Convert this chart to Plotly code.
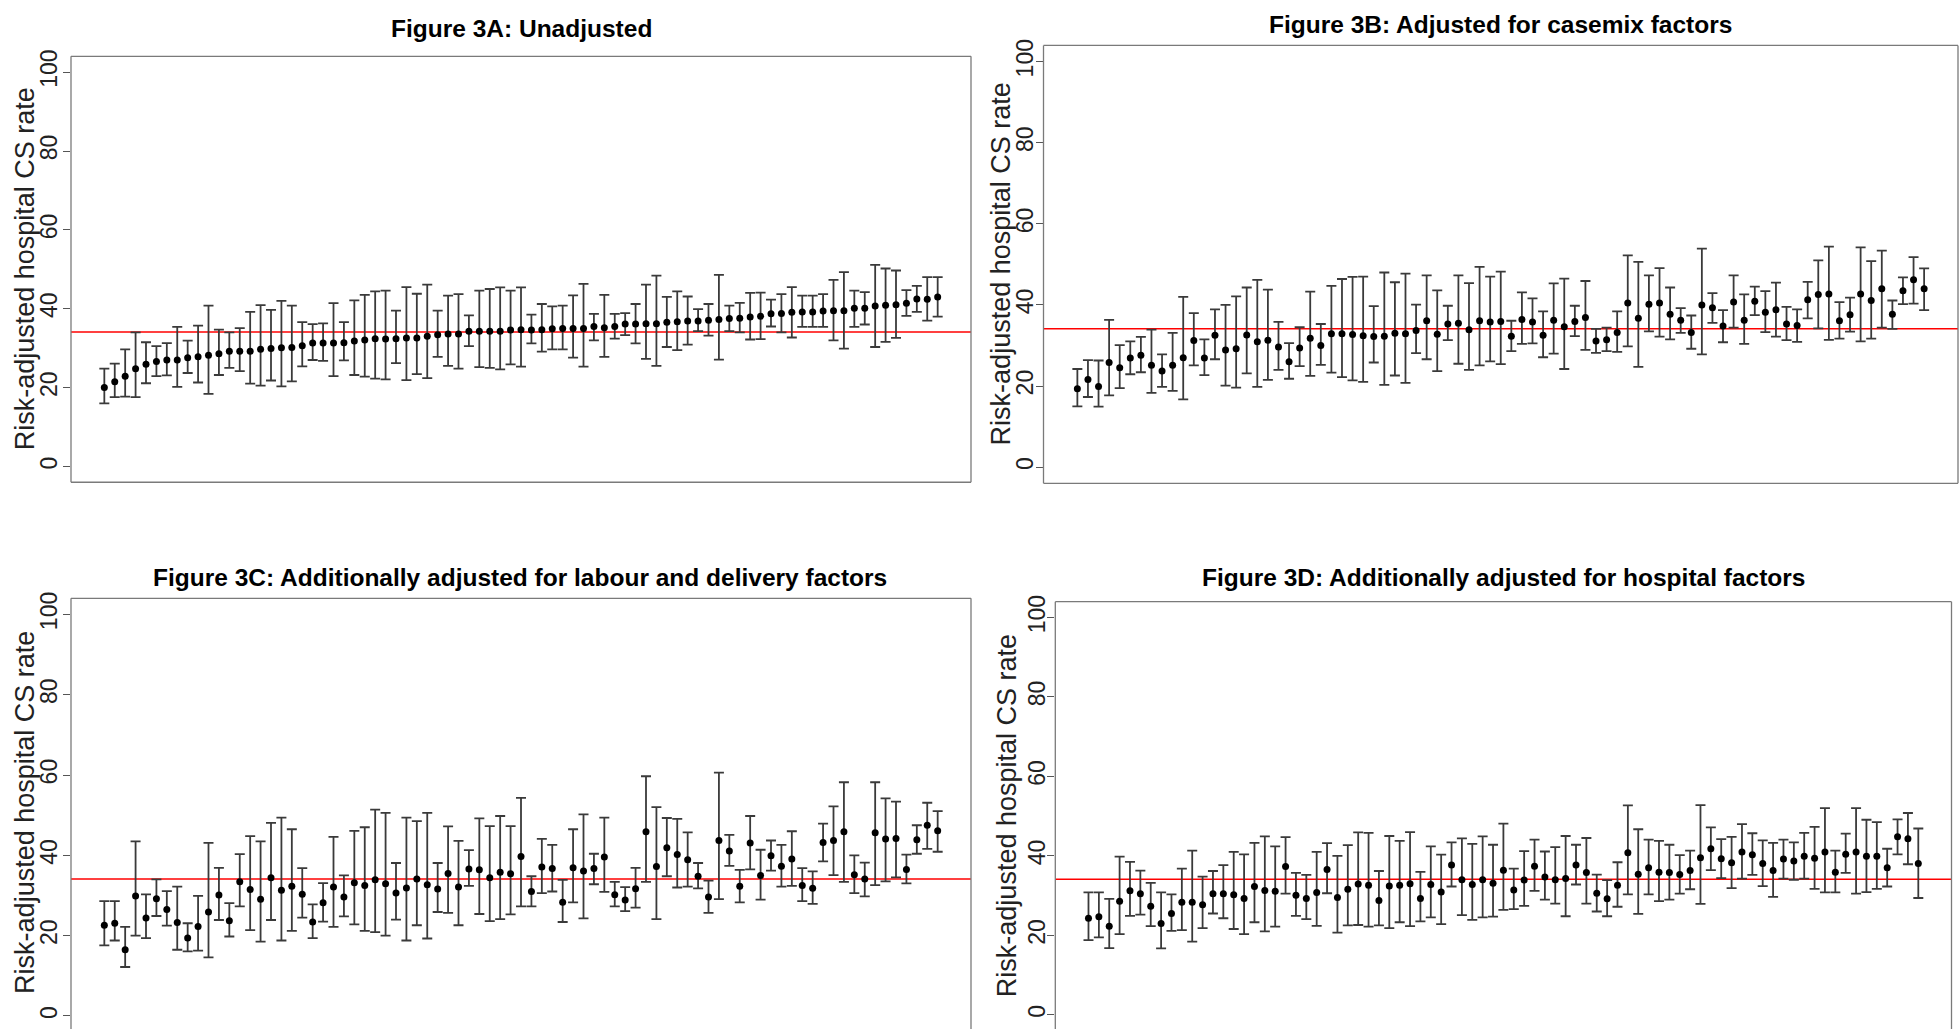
import plotly.graph_objects as go

W, H = 1959, 1029

# ---------------- data ----------------
A_est = [20.0, 21.5, 22.9, 24.8, 25.9, 26.6, 27.0, 27.0, 27.6, 27.8,
         28.2, 28.6, 29.2, 29.2, 29.2, 29.7, 29.9, 30.1, 30.2, 30.6,
         31.3, 31.3, 31.3, 31.4, 31.8, 32.1, 32.4, 32.3, 32.4, 32.6,
         32.6, 33.0, 33.4, 33.6, 33.6, 34.3, 34.3, 34.3, 34.3, 34.6,
         34.7, 34.6, 34.7, 34.9, 35.0, 35.0, 35.0, 35.5, 35.2, 35.5,
         36.1, 36.1, 36.2, 36.2, 36.6, 36.7, 36.9, 36.9, 37.1, 37.3,
         37.5, 37.6, 37.9, 38.1, 38.7, 38.8, 39.1, 39.2, 39.2, 39.4,
         39.5, 39.5, 40.1, 40.1, 40.7, 40.9, 41.0, 41.4, 42.5, 42.4, 43.0]
A_lo = [16.0, 17.6, 17.7, 17.6, 21.1, 22.9, 23.1, 20.2, 23.7, 21.3,
        18.4, 23.2, 25.0, 24.2, 21.0, 20.5, 21.8, 20.3, 21.6, 25.4,
        27.0, 26.8, 22.9, 26.9, 23.2, 22.8, 22.3, 22.1, 26.2, 21.9,
        23.4, 22.4, 27.8, 25.5, 24.8, 30.5, 25.2, 25.0, 24.6, 25.9,
        25.3, 31.2, 29.1, 29.7, 29.7, 27.6, 25.3, 32.0, 27.8, 32.4,
        33.3, 31.2, 27.3, 25.5, 30.3, 29.5, 30.9, 34.3, 33.2, 27.1,
        34.3, 34.0, 32.2, 32.3, 35.5, 34.0, 32.7, 35.4, 35.4, 35.4,
        32.0, 29.9, 35.4, 36.0, 30.3, 31.6, 32.6, 38.2, 39.2, 37.0, 38.0]
A_hi = [24.8, 26.1, 29.7, 34.0, 31.5, 30.5, 31.3, 35.4, 31.9, 35.7,
        40.8, 34.7, 34.0, 35.1, 39.2, 40.9, 39.7, 42.0, 40.8, 36.6,
        36.1, 36.3, 41.4, 36.6, 42.1, 43.5, 44.4, 44.6, 39.5, 45.5,
        43.8, 46.1, 39.5, 43.3, 43.7, 38.3, 44.6, 45.0, 45.4, 44.6,
        45.4, 38.5, 41.2, 40.6, 40.8, 43.4, 46.3, 38.7, 43.5, 38.7,
        38.9, 41.2, 46.1, 48.4, 43.0, 44.4, 43.1, 39.9, 41.2, 48.6,
        40.8, 41.5, 44.0, 44.1, 42.3, 43.7, 45.5, 43.3, 43.3, 43.7,
        47.3, 49.3, 44.6, 44.2, 51.1, 50.2, 49.7, 44.7, 45.8, 48.0, 48.0]

B_est = [19.3, 21.6, 19.9, 25.8, 24.5, 26.9, 27.6, 25.1, 23.7, 25.1,
         27.0, 31.2, 26.9, 32.5, 28.9, 29.2, 32.6, 30.9, 31.3, 29.6,
         26.0, 29.4, 31.8, 30.0, 32.9, 32.9, 32.7, 32.4, 32.2, 32.3,
         33.0, 32.9, 33.7, 36.1, 32.8, 35.3, 35.5, 33.9, 36.1, 35.8,
         35.9, 32.3, 36.4, 35.8, 32.5, 36.2, 34.6, 35.9, 36.9, 31.1,
         31.4, 33.2, 40.5, 36.7, 40.2, 40.5, 37.7, 36.2, 33.2, 40.0,
         39.3, 34.8, 40.7, 36.2, 40.9, 38.2, 38.8, 35.3, 34.9, 41.3,
         42.6, 42.7, 36.1, 37.6, 42.7, 41.1, 44.0, 37.7, 43.5, 46.2, 44.0]
B_lo = [15.0, 17.3, 14.9, 17.7, 19.5, 22.9, 23.4, 18.3, 19.8, 18.8,
        16.7, 25.1, 22.7, 26.6, 20.1, 19.6, 23.1, 19.8, 21.5, 24.0,
        21.8, 24.9, 22.5, 25.2, 23.3, 22.2, 21.4, 21.0, 25.8, 20.3,
        22.6, 20.8, 28.1, 26.6, 23.7, 31.3, 25.5, 24.0, 25.1, 26.1,
        25.4, 28.6, 30.4, 30.5, 27.1, 28.0, 24.2, 32.3, 28.9, 28.2,
        28.6, 28.4, 29.8, 24.7, 33.5, 32.2, 31.5, 33.1, 29.2, 27.8,
        35.6, 30.8, 34.4, 30.4, 37.5, 33.3, 32.2, 31.3, 30.9, 36.7,
        34.2, 31.4, 31.7, 33.4, 31.0, 31.7, 34.4, 34.1, 40.2, 40.3, 38.7]
B_hi = [24.2, 26.4, 26.3, 36.3, 30.1, 31.0, 32.1, 33.9, 27.8, 33.1,
        42.0, 38.0, 31.5, 38.9, 40.0, 42.1, 44.3, 46.2, 43.8, 35.8,
        30.6, 34.5, 43.3, 35.3, 44.7, 46.4, 46.9, 47.0, 39.7, 48.0,
        45.6, 47.7, 40.1, 47.3, 43.6, 39.8, 47.3, 45.4, 49.4, 47.0,
        48.2, 36.1, 43.1, 41.6, 38.4, 45.3, 46.5, 39.8, 45.9, 34.1,
        34.4, 38.4, 52.2, 50.6, 47.3, 49.1, 44.3, 39.2, 37.4, 53.9,
        42.9, 38.7, 47.3, 42.6, 44.5, 43.4, 45.5, 39.5, 38.9, 45.7,
        51.0, 54.4, 40.7, 41.8, 54.2, 50.8, 53.4, 41.1, 46.8, 51.8, 49.0]

C_est = [22.6, 23.1, 16.5, 29.9, 24.4, 29.2, 26.5, 23.3, 19.4, 22.3,
         25.9, 30.1, 23.7, 33.4, 31.5, 29.1, 34.4, 31.3, 32.3, 30.3,
         23.4, 28.2, 32.1, 29.6, 33.2, 32.5, 33.9, 32.9, 30.6, 31.9,
         34.1, 32.7, 31.6, 35.5, 32.1, 36.6, 36.4, 34.4, 35.8, 35.4,
         39.7, 31.0, 37.1, 36.7, 28.3, 36.9, 36.1, 36.7, 39.6, 30.2,
         28.9, 31.7, 45.9, 37.2, 41.9, 40.2, 38.9, 34.8, 29.6, 43.7,
         41.1, 32.3, 43.1, 35.0, 39.9, 37.3, 39.1, 32.5, 31.8, 43.2,
         43.7, 45.9, 35.2, 34.1, 45.6, 44.1, 44.2, 36.5, 43.9, 47.5, 46.1]
C_lo = [17.6, 18.8, 12.2, 20.0, 19.4, 24.9, 22.5, 16.5, 16.1, 16.3,
        14.6, 23.9, 19.8, 27.3, 21.4, 18.5, 23.9, 18.8, 21.2, 24.5,
        19.4, 23.5, 22.2, 24.8, 22.8, 21.2, 20.9, 20.0, 24.0, 18.8,
        22.6, 19.3, 25.9, 25.7, 22.6, 32.4, 25.4, 23.6, 24.1, 25.3,
        27.3, 27.3, 30.6, 31.0, 23.4, 28.3, 24.3, 32.8, 30.9, 27.3,
        26.1, 27.0, 33.4, 24.1, 34.8, 32.0, 32.2, 31.8, 25.7, 29.1,
        37.4, 28.3, 36.5, 29.0, 36.2, 32.2, 32.4, 28.6, 27.9, 38.5,
        35.1, 33.4, 30.6, 29.8, 32.6, 33.5, 34.5, 33.0, 40.4, 41.6, 40.9]
C_hi = [28.6, 28.6, 22.2, 43.5, 30.3, 34.0, 31.1, 32.2, 23.1, 29.9,
        43.1, 36.9, 28.1, 40.3, 44.8, 43.5, 48.1, 49.4, 46.5, 36.8,
        27.8, 33.1, 44.6, 35.0, 46.1, 47.0, 51.4, 50.6, 38.1, 49.4,
        48.5, 50.6, 38.1, 47.2, 43.6, 41.3, 49.2, 47.3, 49.8, 47.3,
        54.3, 34.8, 44.1, 42.6, 33.9, 46.5, 50.2, 40.4, 49.4, 33.4,
        32.1, 36.9, 59.7, 52.0, 49.3, 49.1, 45.7, 38.1, 33.7, 60.6,
        45.1, 36.4, 49.8, 41.4, 43.7, 42.6, 46.0, 36.8, 36.0, 47.9,
        52.2, 58.2, 40.0, 38.2, 58.2, 54.2, 53.4, 40.2, 47.5, 53.1, 51.0]

D_est = [24.3, 24.7, 22.3, 28.6, 31.2, 30.5, 27.3, 23.0, 25.5, 28.3,
         28.3, 27.7, 30.5, 30.5, 30.2, 29.3, 32.3, 31.3, 31.1, 37.3,
         30.1, 29.3, 30.8, 36.6, 29.5, 31.6, 32.9, 32.6, 28.8, 32.4,
         32.6, 33.0, 29.3, 32.8, 30.9, 37.7, 34.0, 32.8, 34.0, 33.1,
         36.4, 31.4, 33.9, 37.4, 34.7, 34.0, 34.3, 37.7, 35.8, 30.6,
         29.2, 32.6, 40.8, 35.4, 37.0, 35.9, 35.8, 35.3, 36.3, 39.5,
         41.8, 39.3, 38.3, 41.0, 40.3, 38.1, 36.3, 39.2, 38.7, 39.9,
         39.4, 41.0, 35.9, 40.4, 41.0, 39.9, 39.9, 37.0, 44.8, 44.3, 38.1]
D_lo = [18.8, 19.5, 16.8, 20.3, 24.9, 25.2, 22.3, 16.7, 21.1, 21.3,
        18.4, 21.8, 25.5, 24.3, 21.6, 20.3, 23.3, 21.0, 22.2, 30.5,
        24.9, 24.1, 22.4, 30.6, 20.7, 22.5, 22.6, 22.2, 22.5, 21.8,
        23.3, 22.3, 23.5, 24.5, 22.8, 32.3, 25.1, 23.9, 24.5, 24.7,
        26.4, 26.6, 27.4, 31.2, 29.0, 28.0, 24.8, 32.8, 28.0, 26.0,
        24.8, 27.2, 30.3, 25.4, 30.3, 28.6, 29.0, 30.5, 31.6, 27.9,
        36.4, 34.4, 31.9, 34.3, 35.2, 32.4, 29.7, 34.3, 34.0, 34.3,
        31.7, 30.8, 30.8, 35.7, 30.5, 30.9, 31.7, 32.3, 40.4, 37.9, 29.4]
D_hi = [30.8, 30.8, 29.2, 39.8, 38.5, 36.3, 33.2, 30.8, 30.3, 36.8,
        41.3, 34.8, 36.2, 37.7, 41.0, 40.4, 43.3, 44.9, 42.4, 44.7,
        35.7, 35.2, 41.0, 43.2, 40.0, 42.7, 45.9, 45.8, 36.2, 45.0,
        43.8, 46.0, 36.0, 42.4, 40.3, 43.4, 44.4, 43.0, 44.9, 42.8,
        48.1, 36.8, 41.2, 44.1, 41.1, 42.2, 45.0, 42.8, 44.5, 35.3,
        33.9, 38.4, 52.7, 46.7, 44.1, 43.8, 42.8, 40.2, 41.3, 52.8,
        47.2, 44.2, 44.8, 48.0, 45.7, 43.9, 43.3, 44.1, 43.4, 45.8,
        47.3, 52.0, 41.3, 45.6, 52.0, 49.1, 48.5, 41.8, 49.2, 50.8, 46.9]

overall_rate = 34.1
y_ticks = [0, 20, 40, 60, 80, 100]
y_title = "Risk-adjusted hospital CS rate"
titles = ["Figure 3A: Unadjusted",
          "Figure 3B: Adjusted for casemix factors",
          "Figure 3C: Additionally adjusted for labour and delivery factors",
          "Figure 3D: Additionally adjusted for hospital factors"]

for arr in (A_est, A_lo, A_hi, B_est, B_lo, B_hi, C_est, C_lo, C_hi, D_est, D_lo, D_hi):
    assert len(arr) == 81, len(arr)

# ---------------- layout geometry (pixels) ----------------
panels = [
    dict(est=A_est, lo=A_lo, hi=A_hi, x0=71, x1=971, yt=49.7, yb=478.5, yr=[-4, 104],
         tx=521, ty=22, ytx=25, frame_bottom=True, standoff=-3),
    dict(est=B_est, lo=B_lo, hi=B_hi, x0=1043.5, x1=1958, yt=38.7, yb=479.6, yr=[-4, 104],
         tx=1500, ty=18, ytx=1001, frame_bottom=True, standoff=-7),
    dict(est=C_est, lo=C_lo, hi=C_hi, x0=71, x1=971, yt=595.4, yb=1029, yr=[-3.24, 104],
         tx=520, ty=574, ytx=25, frame_bottom=False, standoff=-3),
    dict(est=D_est, lo=D_lo, hi=D_hi, x0=1055.3, x1=1951.5, yt=598.7, yb=1029, yr=[-3.575, 104],
         tx=1503, ty=574, ytx=1007, frame_bottom=False, standoff=-7),
]

FONT = "Liberation Sans, Arial, sans-serif"
fig = go.Figure()
shapes, annotations = [], []
n = len(A_est)
xs = list(range(1, n + 1))

for i, p in enumerate(panels):
    k = "" if i == 0 else str(i + 1)
    xa, ya = "x" + k, "y" + k
    fig.add_trace(go.Scatter(
        x=xs, y=p["est"], xaxis=xa, yaxis=ya, mode="markers",
        marker=dict(color="black", size=7),
        error_y=dict(type="data", symmetric=False,
                     array=[h - e for h, e in zip(p["hi"], p["est"])],
                     arrayminus=[e - l for e, l in zip(p["est"], p["lo"])],
                     color="#3a3a3a", thickness=1.8, width=5),
        showlegend=False, hoverinfo="skip"))
    dom_x = [p["x0"] / W, p["x1"] / W]
    dom_y = [1 - p["yb"] / H, 1 - p["yt"] / H]
    fig.layout["xaxis" + k] = dict(domain=dom_x, range=[-2.2, n + 3.2], anchor=ya,
                                   visible=False, showgrid=False, zeroline=False)
    fig.layout["yaxis" + k] = dict(domain=dom_y, range=p["yr"], anchor=xa,
                                   tickmode="array", tickvals=y_ticks,
                                   ticktext=[str(t) for t in y_ticks],
                                   ticks="outside", ticklen=7, tickwidth=1.3, tickcolor="#555",
                                   ticklabelstandoff=p["standoff"],
                                   tickangle=-90, tickfont=dict(family=FONT, size=23, color="#222"),
                                   showgrid=False, zeroline=False, showline=False)
    # frame
    fc = "#7a7a7a"
    segs = [(0, 1, 1, 1), (1, 1, 0, 1), (0, 0, 0, 1)]
    if p["frame_bottom"]:
        segs.append((0, 1, 0, 0))
    for (a0, a1, b0, b1) in segs:
        shapes.append(dict(type="line", xref=xa + " domain", yref=ya + " domain",
                           x0=a0, x1=a1, y0=b0, y1=b1, line=dict(color=fc, width=1.3)))
    # reference line
    shapes.append(dict(type="line", xref=xa + " domain", yref=ya, x0=0, x1=1,
                       y0=overall_rate, y1=overall_rate, layer="below",
                       line=dict(color="#ff0000", width=1.5)))
    # title
    annotations.append(dict(text="<b>" + titles[i] + "</b>", xref="paper", yref="paper",
                            x=p["tx"] / W, y=1 - p["ty"] / H, xanchor="center", yanchor="middle",
                            showarrow=False, font=dict(family=FONT, size=24.5, color="black")))
    # y title
    ymid = (p["yt"] + (p["yb"] if p["frame_bottom"] else p["yt"] + 432)) / 2
    annotations.append(dict(text=y_title, xref="paper", yref="paper",
                            x=p["ytx"] / W, y=1 - ymid / H,
                            xanchor="center", yanchor="middle", textangle=-90,
                            showarrow=False, font=dict(family=FONT, size=27, color="#222")))

fig.update_layout(width=W, height=H, margin=dict(l=0, r=0, t=0, b=0),
                  paper_bgcolor="white", plot_bgcolor="white",
                  shapes=shapes, annotations=annotations)
fig.write_html("out.html", config={"displayModeBar": False},
               post_script="document.body.style.margin='0px';document.body.style.overflow='hidden';")
